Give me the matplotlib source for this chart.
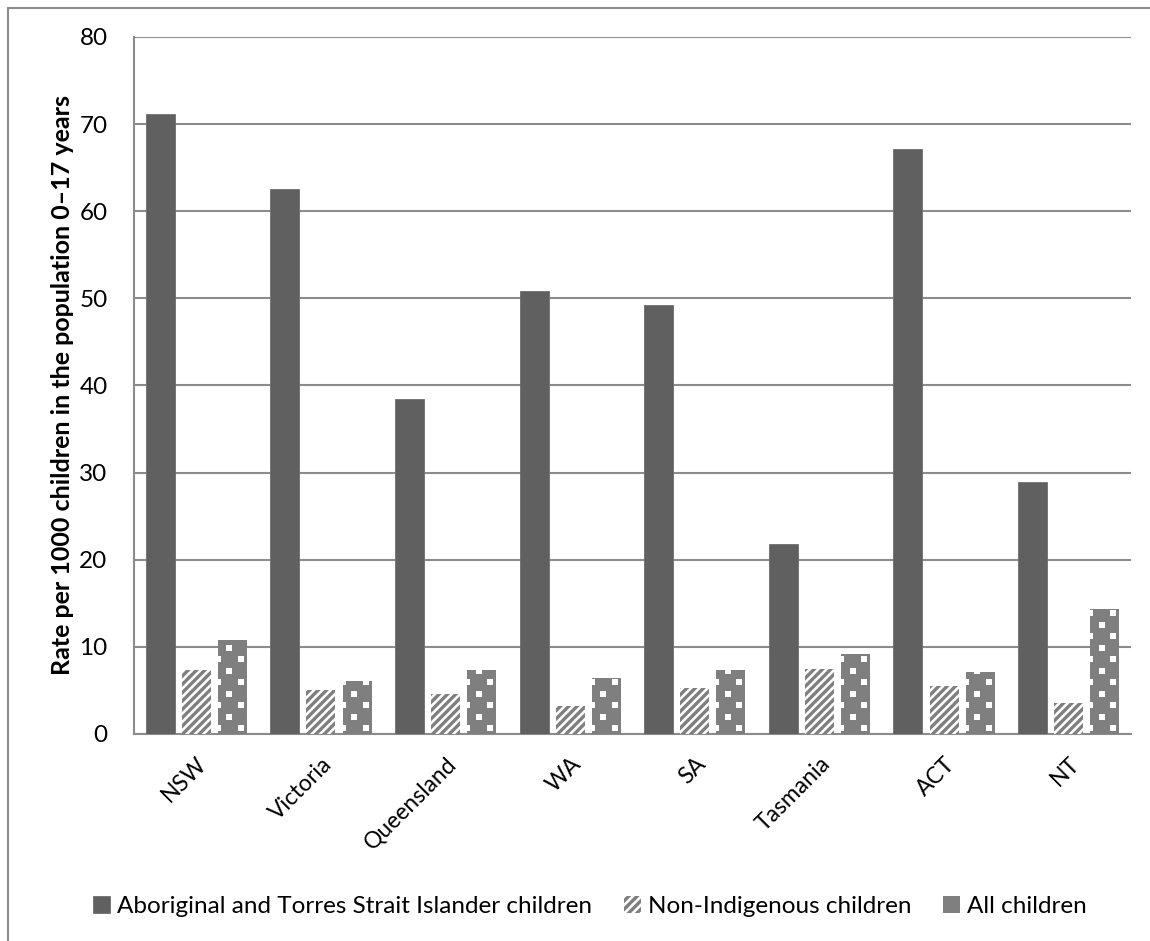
import numpy as np
import matplotlib.pyplot as plt
from matplotlib.patches import Rectangle

plt.rcParams['font.family'] = ['Lato', 'DejaVu Sans']
plt.rcParams['hatch.linewidth'] = 2.4

states = ['NSW', 'Victoria', 'Queensland', 'WA', 'SA', 'Tasmania', 'ACT', 'NT']
aboriginal = [71.2, 62.6, 38.5, 50.8, 49.2, 21.8, 67.2, 28.9]
non_indigenous = [7.3, 5.1, 4.6, 3.2, 5.3, 7.5, 5.5, 3.5]
all_children = [10.8, 6.1, 7.3, 6.4, 7.3, 9.2, 7.1, 14.3]

series_names = ['Aboriginal and Torres Strait Islander children',
                'Non-Indigenous children', 'All children']

dark = '#606060'
mid = '#7f7f7f'
axis_grey = '#8c8c8c'

fig = plt.figure(figsize=(11.5, 9.41), dpi=100)
ax = fig.add_axes([0.1165, 0.22, 0.867, 0.7407])

x = np.arange(len(states))
w = 0.233
step = 0.29

b1 = ax.bar(x - step, aboriginal, w, color=dark, edgecolor='#6e6e6e', linewidth=0.6,
            label=series_names[0], zorder=3)
b2 = ax.bar(x, non_indigenous, w, color='white', edgecolor=mid, hatch='////',
            linewidth=0, label=series_names[1], zorder=3)
b3 = ax.bar(x + step, all_children, w, color=mid, edgecolor=mid, linewidth=0,
            label=series_names[2], zorder=3)

# white square dot pattern on the "All children" bars
dx = 0.0923
dy = 1.32
for rect in b3:
    left = rect.get_x()
    h = rect.get_height()
    px, py = [], []
    for j in range(int(h / dy) + 2):
        for k in range(-1, 5):
            if (k + j) % 2 == 0:
                px.append(left + k * dx)
                py.append(j * dy + dy * 0.5)
    pts = ax.scatter(px, py, marker='s', s=15, color='white', linewidths=0, zorder=4)
    pts.set_clip_path(rect)

ax.set_xlim(-0.5, len(states) - 0.5)
ax.set_ylim(0, 80)
ax.set_yticks(np.arange(0, 81, 10))
ax.yaxis.grid(True, color=axis_grey, linewidth=1.5, zorder=0)
ax.set_axisbelow(True)

for side in ['top', 'right']:
    ax.spines[side].set_visible(False)
for side in ['left', 'bottom']:
    ax.spines[side].set_color(axis_grey)
    ax.spines[side].set_linewidth(1.5)

ax.tick_params(axis='y', length=0, pad=19, labelsize=17.5)
ax.tick_params(axis='x', length=0, pad=14, labelsize=16.5)
ax.set_xticks(x)
ax.set_xticklabels(states, rotation=45, ha='right', va='top', rotation_mode='anchor')

ax.set_ylabel('Rate per 1000 children in the population 0–17 years',
              fontsize=18, fontweight='bold')
ax.yaxis.label.set_va('center')
ax.yaxis.set_label_coords(-0.072, 0.5)

leg = fig.legend(handles=[b1, b2, b3], loc='center', bbox_to_anchor=(0.513, 0.037),
                 ncol=3, frameon=False, fontsize=17.5, handlelength=0.7, handleheight=0.7,
                 handletextpad=0.3, columnspacing=1.3)

# outer chart border
fig.patches.append(Rectangle((8 / 1150, -0.1), 1.2, 1.1 - 8 / 941, fill=False,
                             edgecolor=axis_grey, linewidth=1.5,
                             transform=fig.transFigure, figure=fig))

fig.savefig('out.png', dpi=100)
